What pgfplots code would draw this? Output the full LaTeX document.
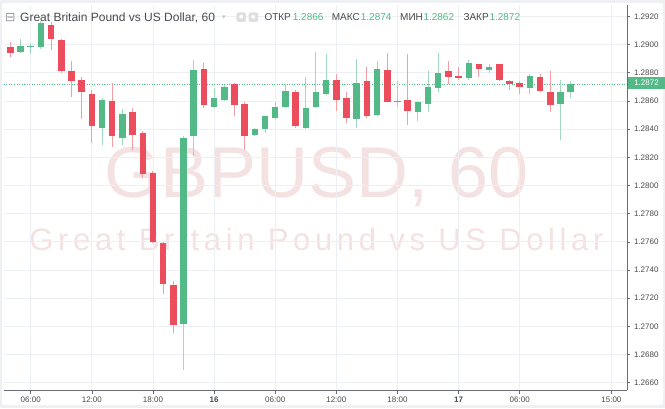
\documentclass[border=0pt]{standalone}
\usepackage{pgfplots}
\pgfplotsset{compat=1.18}
\usepackage{pgfplotstable}
\usepackage{fontspec}
\setmainfont{Liberation Sans}
\newfontfamily\symfont{DejaVu Sans}

\definecolor{upc}{HTML}{53B987}
\definecolor{dnc}{HTML}{EB4D5C}
\definecolor{gridc}{HTML}{ECF0F4}
\definecolor{axc}{HTML}{6A6D78}
\definecolor{txt}{HTML}{4A4A4A}
\definecolor{wm}{RGB}{244,226,226}
\definecolor{bgout}{HTML}{EEF0F3}

\pgfplotstableread{
h o hi lo c
5 1.2895 1.2904 1.2894 1.2899
6 1.2898 1.2901 1.2893 1.2899
7 1.2898 1.2917 1.2897 1.2915
13 1.2841 1.2862 1.2829 1.2861
15 1.2834 1.2854 1.2829 1.2851
21 1.2702 1.2835 1.2669 1.2834
22 1.2835 1.2889 1.2821 1.2882
24 1.2856 1.2869 1.2855 1.2862
25 1.2861 1.2871 1.2860 1.2870
28 1.2836 1.2841 1.2835 1.2840
29 1.2840 1.2849 1.2837 1.2849
30 1.2848 1.2859 1.2847 1.2856
31 1.2856 1.2872 1.2855 1.2867
33 1.2841 1.2877 1.2840 1.2855
34 1.2856 1.2895 1.2855 1.2866
35 1.2865 1.2893 1.2864 1.2875
38 1.2847 1.2890 1.2841 1.2873
40 1.2850 1.2888 1.2849 1.2883
42 1.2860 1.2874 1.2856 1.2860
44 1.2852 1.2860 1.2846 1.2859
45 1.2858 1.2881 1.2852 1.2870
46 1.2869 1.2894 1.2866 1.2880
49 1.2876 1.2889 1.2875 1.2887
51 1.2882 1.2886 1.2880 1.2884
55 1.2869 1.2879 1.2865 1.2878
58 1.2858 1.2875 1.2832 1.2866
59 1.2866 1.2874 1.2862 1.2872
}\uptable

\pgfplotstableread{
h o hi lo c
4 1.2898 1.2902 1.2891 1.2894
8 1.2914 1.2916 1.2896 1.2904
9 1.2903 1.2904 1.2880 1.2881
10 1.2881 1.2888 1.2863 1.2874
11 1.2875 1.2877 1.2847 1.2866
12 1.2865 1.2868 1.2830 1.2842
14 1.2860 1.2873 1.2827 1.2835
16 1.2852 1.2855 1.2825 1.2836
17 1.2837 1.2839 1.2805 1.2808
18 1.2809 1.2810 1.2759 1.2760
19 1.2759 1.2760 1.2723 1.2730
20 1.2729 1.2732 1.2695 1.2701
23 1.2883 1.2887 1.2855 1.2857
26 1.2872 1.2873 1.2849 1.2857
27 1.2858 1.2859 1.2825 1.2835
32 1.2866 1.2868 1.2841 1.2842
36 1.2875 1.2879 1.2853 1.2861
37 1.2862 1.2866 1.2844 1.2848
39 1.2874 1.2884 1.2848 1.2849
41 1.2882 1.2894 1.2859 1.2859
43 1.2861 1.2893 1.2843 1.2853
47 1.2881 1.2888 1.2872 1.2877
48 1.2878 1.2884 1.2875 1.2876
50 1.2886 1.2886 1.2877 1.2883
52 1.2886 1.2886 1.2874 1.2875
53 1.2874 1.2875 1.2868 1.2872
54 1.2873 1.2874 1.2865 1.2870
56 1.2877 1.2879 1.2866 1.2867
57 1.2866 1.2881 1.2852 1.2857
}\dntable

\begin{document}
\begin{tikzpicture}
\useasboundingbox (0,0) rectangle (665pt,408pt);
\fill[bgout] (0,0) rectangle (665pt,408pt);
\fill[white, rounded corners=2pt] (2pt,3pt) rectangle (663pt,405pt);

% watermark
\node[anchor=base, inner sep=0pt, text=wm, font=\fontsize{72}{80}\selectfont] at (316.5pt,211pt) {GBPUSD, 60};
\node[anchor=base, inner sep=0pt, text=wm, font=\fontsize{31}{36}\selectfont\addfontfeature{LetterSpace=15}] at (316.5pt,158pt) {Great Britain Pound vs US Dollar};

\begin{axis}[
  at={(4pt,18pt)}, anchor=south west,
  scale only axis, width=623pt, height=385pt,
  xmin=3.38, xmax=64.53, ymin=1.26548, ymax=1.29281,
  axis x line*=bottom, axis y line*=right,
  axis line style={draw=axc, line width=0.9pt},
  xtick={6,12,18,24,30,36,42,48,54,63},
  xticklabels={06:00,12:00,18:00,\textbf{16},06:00,12:00,18:00,\textbf{17},06:00,15:00},
  ytick={1.266,1.268,1.270,1.272,1.274,1.276,1.278,1.280,1.282,1.284,1.286,1.288,1.290,1.292},
  scaled y ticks=false,
  /pgf/number format/assume math mode=true,
  yticklabel style={/pgf/number format/.cd, fixed, fixed zerofill, precision=4, assume math mode=true},
  ticklabel style={font=\fontsize{8}{9}\selectfont, text=txt},
  tick align=outside, major tick length=3.5pt,
  tick style={draw=axc, line width=0.6pt},
  grid=major, major grid style={draw=gridc, line width=0.8pt},
  clip=true,
  candle/.style={draw=none, mark=none, error bars/y dir=plus, error bars/y explicit, error bars/error mark=none},
]
% last-price line
\addplot[upc, line width=0.8pt, dash pattern=on 1pt off 1.5pt] coordinates {(3.38,1.2872) (64.53,1.2872)};

% wicks
\addplot[candle, error bars/error bar style={draw=upc!55!white, line width=1pt}]
  table[x=h, y=lo, y error plus expr=\thisrow{hi}-\thisrow{lo}] {\uptable};
\addplot[candle, error bars/error bar style={draw=dnc!55!white, line width=1pt}]
  table[x=h, y=lo, y error plus expr=\thisrow{hi}-\thisrow{lo}] {\dntable};
% bodies
\addplot[candle, error bars/error bar style={draw=upc, line width=6.5pt}]
  table[x=h, y=o, y error plus expr={max(\thisrow{c}-\thisrow{o},0.000015)}] {\uptable};
\addplot[candle, error bars/error bar style={draw=dnc, line width=6.5pt}]
  table[x=h, y=c, y error plus expr={max(\thisrow{o}-\thisrow{c},0.000015)}] {\dntable};
\end{axis}

% price tag
\fill[upc] (627.5pt,319pt) rectangle (665pt,331pt);
\node[text=white, font=\fontsize{8}{9}\selectfont, inner sep=0pt] at (646.5pt,325pt) {1.2872};

% header
\node[anchor=base west, inner sep=0pt, text=gray!80, font=\symfont\fontsize{12.5}{14}\selectfont] at (5pt,386.5pt) {⊟};
\node[anchor=base west, inner sep=0pt, text=txt, font=\fontsize{12}{14}\selectfont] at (20pt,386.5pt) {Great Britain Pound vs US Dollar, 60};
\node[anchor=base west, inner sep=0pt, text=gray!45, font=\symfont\fontsize{7}{8}\selectfont] at (222pt,388pt) {▾};
\node[fill=gray!25, rounded corners=1.5pt, minimum size=9.5pt, inner sep=0pt, text=white, font=\symfont\fontsize{5}{6}\selectfont] at (241.2pt,390.8pt) {●};
\node[fill=gray!25, rounded corners=1.5pt, minimum size=9.5pt, inner sep=0pt, text=white, font=\symfont\fontsize{5}{6}\selectfont] at (253.3pt,390.8pt) {●};
\begin{scope}[every node/.style={anchor=base west, inner sep=0pt, font=\fontsize{10}{12}\selectfont}]
\node[text=txt] at (264.3pt,387pt) {ОТКР};
\node[text=upc] at (292.7pt,387pt) {1.2866};
\node[text=txt] at (331.7pt,387pt) {МАКС};
\node[text=upc] at (360.7pt,387pt) {1.2874};
\node[text=txt] at (400pt,387pt) {МИН};
\node[text=upc] at (423.3pt,387pt) {1.2862};
\node[text=txt] at (463.3pt,387pt) {ЗАКР};
\node[text=upc] at (489.3pt,387pt) {1.2872};
\end{scope}
\end{tikzpicture}
\end{document}
